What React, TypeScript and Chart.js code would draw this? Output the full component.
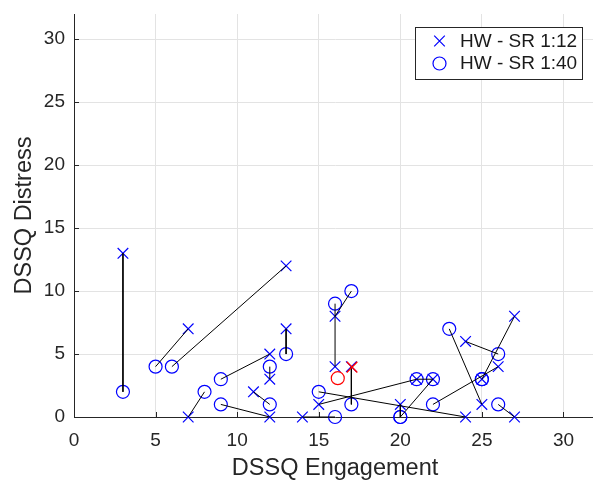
import React, { useEffect, useRef } from "react";
import { Chart, registerables } from "chart.js";

Chart.register(...registerables);

// Per-participant DSSQ scores, one entry per participant in each array
const engagement12 = [3, 7, 13, 13, 12, 12, 11, 7, 12, 14, 16, 16, 17, 15, 21, 22, 20, 24, 26, 27, 25, 24, 27, 25];
const distress12 = [13, 7, 12, 7, 5, 3, 2, 0, 0, 0, 8, 4, 4, 1, 3, 3, 1, 0, 4, 8, 1, 6, 0, 3];
const engagement40 = [3, 5, 6, 13, 9, 12, 12, 8, 9, 16, 17, 16, 17, 21, 22, 20, 20, 15, 22, 25, 23, 26, 26, 25];
const distress40 = [2, 4, 4, 5, 3, 4, 1, 2, 1, 0, 10, 9, 1, 3, 3, 0, 0, 2, 1, 3, 7, 5, 1, 3];

const seriesLabels = ["HW - SR 1:12", "HW - SR 1:40"];
const xTitle = "DSSQ Engagement";
const yTitle = "DSSQ Distress";
const axisMin = 0;
const axisMax = 32;
const tickStep = 5;

const FONT = "'Liberation Sans', Arial, Helvetica, sans-serif";
const BLUE = "#0000ff";
const RED = "#ff0000";
const AXIS = "#262626";
const GRID = "#e3e3e3";

const mean = (a: number[]) => a.reduce((s, v) => s + v, 0) / a.length;

// Short inward tick marks on the left and bottom axes
const innerTicks = {
  id: "innerTicks",
  beforeDatasetsDraw(chart: any) {
    const { ctx, chartArea, scales } = chart;
    ctx.save();
    ctx.strokeStyle = AXIS;
    ctx.lineWidth = 1;
    ctx.beginPath();
    scales.x.ticks.forEach((t: any) => {
      const px = Math.round(scales.x.getPixelForValue(t.value)) + 0.5;
      ctx.moveTo(px, chartArea.bottom);
      ctx.lineTo(px, chartArea.bottom - 5);
    });
    scales.y.ticks.forEach((t: any) => {
      const py = Math.round(scales.y.getPixelForValue(t.value)) + 0.5;
      ctx.moveTo(chartArea.left, py);
      ctx.lineTo(chartArea.left + 5, py);
    });
    ctx.stroke();
    ctx.restore();
  },
};

// Boxed legend in the upper-right corner of the plot
const boxedLegend = {
  id: "boxedLegend",
  afterDraw(chart: any) {
    const { ctx } = chart;
    const x0 = 415.5;
    const y0 = 27.5;
    const w = 167;
    const h = 52;
    ctx.save();
    ctx.fillStyle = "#ffffff";
    ctx.fillRect(x0, y0, w, h);
    ctx.strokeStyle = AXIS;
    ctx.lineWidth = 1;
    ctx.strokeRect(x0, y0, w, h);

    const mx = 439.5;
    const rows = [41, 63.5];
    ctx.strokeStyle = BLUE;
    ctx.lineWidth = 1.2;
    // cross marker
    const d = 5.3;
    ctx.beginPath();
    ctx.moveTo(mx - d, rows[0] - d);
    ctx.lineTo(mx + d, rows[0] + d);
    ctx.moveTo(mx - d, rows[0] + d);
    ctx.lineTo(mx + d, rows[0] - d);
    ctx.stroke();
    // circle marker
    ctx.beginPath();
    ctx.arc(mx, rows[1], 6.5, 0, Math.PI * 2);
    ctx.stroke();

    ctx.fillStyle = "#1a1a1a";
    ctx.font = `19px ${FONT}`;
    ctx.textAlign = "left";
    ctx.textBaseline = "middle";
    ctx.fillText(seriesLabels[0], 460, rows[0] + 0.5);
    ctx.fillText(seriesLabels[1], 460, rows[1] + 0.5);
    ctx.restore();
  },
};

export default function App() {
  const canvasRef = useRef<HTMLCanvasElement | null>(null);

  useEffect(() => {
    const canvas = canvasRef.current;
    if (!canvas) return;

    const pairLines = engagement12.map((e, i) => ({
      data: [
        { x: e, y: distress12[i] },
        { x: engagement40[i], y: distress40[i] },
      ],
      showLine: true,
      borderColor: "#000000",
      borderWidth: 1,
      pointRadius: 0,
      pointHoverRadius: 0,
      clip: false as any,
    }));

    const chart = new Chart(canvas, {
      type: "scatter",
      data: {
        datasets: [
          {
            label: "mean 1:12",
            data: [{ x: mean(engagement12), y: mean(distress12) }],
            pointStyle: "crossRot",
            pointRadius: 7.5,
            borderColor: RED,
            backgroundColor: "rgba(0,0,0,0)",
            pointBorderWidth: 1.4,
            clip: false as any,
          },
          {
            label: "mean 1:40",
            data: [{ x: mean(engagement40), y: mean(distress40) }],
            pointStyle: "circle",
            pointRadius: 6.5,
            borderColor: RED,
            backgroundColor: "rgba(0,0,0,0)",
            pointBorderWidth: 1.2,
            clip: false as any,
          },
          ...pairLines,
          {
            label: seriesLabels[0],
            data: engagement12.map((e, i) => ({ x: e, y: distress12[i] })),
            pointStyle: "crossRot",
            pointRadius: 7.5,
            borderColor: BLUE,
            backgroundColor: "rgba(0,0,0,0)",
            pointBorderWidth: 1.2,
            clip: false as any,
          },
          {
            label: seriesLabels[1],
            data: engagement40.map((e, i) => ({ x: e, y: distress40[i] })),
            pointStyle: "circle",
            pointRadius: 6.5,
            borderColor: BLUE,
            backgroundColor: "rgba(0,0,0,0)",
            pointBorderWidth: 1.2,
            clip: false as any,
          },
        ] as any,
      },
      options: {
        animation: false,
        responsive: false,
        devicePixelRatio: 1,
        events: [],
        layout: { padding: { top: 14, right: 5, bottom: 0, left: 0 } },
        plugins: {
          legend: { display: false },
          tooltip: { enabled: false },
        },
        scales: {
          x: {
            type: "linear",
            position: "bottom",
            min: axisMin,
            max: axisMax,
            grid: { color: GRID, lineWidth: 1, drawTicks: false, tickLength: 0 },
            border: { display: true, color: AXIS, width: 1 },
            ticks: {
              stepSize: tickStep,
              includeBounds: false,
              padding: 12,
              color: AXIS,
              font: { family: FONT, size: 19 },
            },
            title: {
              display: true,
              text: xTitle,
              color: AXIS,
              font: { family: FONT, size: 23.5, lineHeight: 1 },
              padding: { top: 0, bottom: 1 },
            },
            afterFit: (s: any) => {
              s.height = 64;
              s.paddingLeft = 0;
              s.paddingRight = 0;
            },
          },
          y: {
            type: "linear",
            position: "left",
            min: axisMin,
            max: axisMax,
            grid: { color: GRID, lineWidth: 1, drawTicks: false, tickLength: 0 },
            border: { display: true, color: AXIS, width: 1 },
            ticks: {
              stepSize: tickStep,
              includeBounds: false,
              padding: 9,
              color: AXIS,
              font: { family: FONT, size: 19 },
            },
            title: {
              display: true,
              text: yTitle,
              color: AXIS,
              font: { family: FONT, size: 23.5, lineHeight: 1 },
              padding: { top: 13, bottom: 0 },
            },
            afterFit: (s: any) => {
              s.width = 74;
              s.paddingTop = 0;
              s.paddingBottom = 0;
            },
          },
        },
      } as any,
      plugins: [innerTicks, boxedLegend],
    });

    return () => chart.destroy();
  }, []);

  return (
    <div
      style={{
        position: "fixed",
        left: 0,
        top: 0,
        width: 593,
        height: 481,
        overflow: "hidden",
        background: "#ffffff",
      }}
    >
      <canvas
        ref={canvasRef}
        width={605}
        height={481}
        style={{ display: "block", width: 605, height: 481 }}
      />
    </div>
  );
}
